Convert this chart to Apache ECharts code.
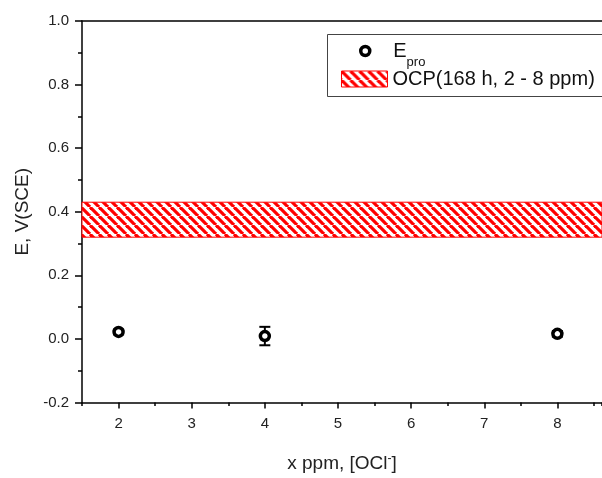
<!DOCTYPE html>
<html lang="en">
<head>
<meta charset="UTF-8">
<title>E vs x ppm</title>
<style>html,body{margin:0;padding:0;background:#fff}</style>
</head>
<body>
<div id="main" style="width: 602px;height: 478px;"></div>
<script src="https://cdn.jsdelivr.net/npm/echarts@6/dist/echarts.min.js"></script>
<script type="text/javascript">
    // measured E_pro points
    var ppm = [2, 4, 8];
    var ePro = [0.022, 0.009, 0.016];
    var eErr = [0.008, 0.029, 0.009];
    // OCP band (168 h, 2 - 8 ppm)
    var ocpLow = 0.32;
    var ocpHigh = 0.43;
    var xTicks = [2, 3, 4, 5, 6, 7, 8];
    var xMin = 1.5, xMax = 8.61;

    var font = 'Liberation Sans, Arial, sans-serif';

    function hatch() {
        var c = document.createElement('canvas');
        c.width = 9; c.height = 9;
        var ctx = c.getContext('2d');
        ctx.fillStyle = '#fff';
        ctx.fillRect(0, 0, 9, 9);
        ctx.strokeStyle = '#ff0000';
        ctx.lineWidth = 3.2;
        for (var k = -9; k <= 9; k += 9) {
            ctx.beginPath();
            ctx.moveTo(k, 0);
            ctx.lineTo(k + 9, 9);
            ctx.stroke();
        }
        return c;
    }
    var pattern = {image: hatch(), repeat: 'repeat'};

    var pts = ppm.map(function (x, i) { return [x, ePro[i]]; });
    var bars = ppm.map(function (x, i) { return [x, ePro[i] - eErr[i], ePro[i] + eErr[i]]; });

    var axisLineStyle = {color: '#000', width: 1.5};

    var myChart = echarts.init(document.getElementById('main'));
    var option = {
        animation: false,
        textStyle: {fontFamily: font},
        grid: {left: 82, right: 0, top: 21, bottom: 68},
        graphic: [{
            type: 'rect', left: 327, top: 34, z: 0,
            shape: {width: 290, height: 62},
            style: {fill: '#fff', stroke: '#444', lineWidth: 1}
        }],
        legend: [{
            data: [{name: 'Epro', icon: 'circle'}],
            left: 354, top: 36,
            itemWidth: 46, itemHeight: 9,
            itemStyle: {color: '#fff', borderColor: '#000', borderWidth: 3.5},
            formatter: function () { return '{e|E}{s|pro}'; },
            textStyle: {
                color: '#111',
                rich: {
                    e: {fontSize: 20, fontFamily: font, lineHeight: 22},
                    s: {fontSize: 13, fontFamily: font, verticalAlign: 'bottom', lineHeight: 22, padding: [0, 0, -7, 0]}
                }
            }
        }, {
            data: [{name: 'OCP(168 h, 2 - 8 ppm)', icon: 'rect'}],
            left: 336, top: 64,
            itemWidth: 46, itemHeight: 16,
            itemStyle: {color: pattern, borderColor: '#ff0000', borderWidth: 1},
            textStyle: {fontSize: 20, color: '#111', fontFamily: font}
        }],
        xAxis: [{
            type: 'value', min: xMin, max: xMax, interval: 0.5, position: 'bottom',
            axisLine: {show: true, onZero: false, lineStyle: axisLineStyle},
            axisTick: {show: true, length: 3.5, lineStyle: axisLineStyle},
            axisLabel: {show: false},
            splitLine: {show: false}
        }, {
            type: 'value', min: xMin, max: xMax, position: 'bottom',
            axisLine: {show: false, onZero: false},
            axisTick: {show: true, length: 6, customValues: xTicks, lineStyle: axisLineStyle},
            axisLabel: {customValues: xTicks, fontSize: 15, color: '#222', margin: 14, fontFamily: font},
            splitLine: {show: false},
            name: '{a|x ppm, [OCl}{s|-}{a|]}',
            nameLocation: 'middle', nameGap: 50,
            nameTextStyle: {
                rich: {
                    a: {fontSize: 19, color: '#222', fontFamily: font, lineHeight: 22},
                    s: {fontSize: 12, color: '#222', fontFamily: font, verticalAlign: 'top', lineHeight: 22, padding: [0, 0, 6, 0]}
                }
            }
        }, {
            type: 'value', min: xMin, max: xMax, position: 'top',
            axisLine: {show: true, onZero: false, lineStyle: axisLineStyle},
            axisTick: {show: false}, axisLabel: {show: false}, splitLine: {show: false}
        }],
        yAxis: {
            type: 'value', min: -0.2, max: 1.0, interval: 0.2,
            axisLine: {show: true, onZero: false, lineStyle: axisLineStyle},
            axisTick: {show: true, length: 7, lineStyle: axisLineStyle},
            minorTick: {show: true, splitNumber: 2, length: 4, lineStyle: axisLineStyle},
            axisLabel: {
                fontSize: 15, color: '#222', margin: 13, fontFamily: font,
                formatter: function (v) { return v.toFixed(1); }
            },
            splitLine: {show: false},
            name: 'E, V(SCE)', nameLocation: 'middle', nameGap: 50,
            nameTextStyle: {fontSize: 19, color: '#222', fontFamily: font}
        },
        series: [{
            name: 'OCP(168 h, 2 - 8 ppm)',
            type: 'custom',
            xAxisIndex: 0,
            data: [[xMin, ocpLow, xMax, ocpHigh]],
            encode: {x: [0, 2], y: [1, 3]},
            z: 1,
            renderItem: function (params, api) {
                var p0 = api.coord([api.value(0), api.value(3)]);
                var p1 = api.coord([api.value(2), api.value(1)]);
                return {
                    type: 'rect',
                    shape: {x: p0[0], y: p0[1], width: p1[0] - p0[0], height: p1[1] - p0[1]},
                    style: {fill: pattern, stroke: '#ff0000', lineWidth: 1}
                };
            }
        }, {
            name: 'err',
            type: 'custom',
            xAxisIndex: 0,
            data: bars,
            encode: {x: 0, y: [1, 2]},
            z: 2,
            renderItem: function (params, api) {
                var lo = api.coord([api.value(0), api.value(1)]);
                var hi = api.coord([api.value(0), api.value(2)]);
                var w = 5.5;
                var st = {stroke: '#000', lineWidth: 2};
                return {
                    type: 'group',
                    children: [
                        {type: 'line', shape: {x1: lo[0], y1: lo[1], x2: hi[0], y2: hi[1]}, style: st},
                        {type: 'line', shape: {x1: lo[0] - w, y1: lo[1], x2: lo[0] + w, y2: lo[1]}, style: st},
                        {type: 'line', shape: {x1: hi[0] - w, y1: hi[1], x2: hi[0] + w, y2: hi[1]}, style: st}
                    ]
                };
            }
        }, {
            name: 'Epro',
            type: 'scatter',
            xAxisIndex: 0,
            data: pts,
            symbol: 'circle',
            symbolSize: 9,
            z: 3,
            itemStyle: {color: '#fff', borderColor: '#000', borderWidth: 3.5, opacity: 1}
        }]
    };
    myChart.setOption(option);
</script>
</body>
</html>
